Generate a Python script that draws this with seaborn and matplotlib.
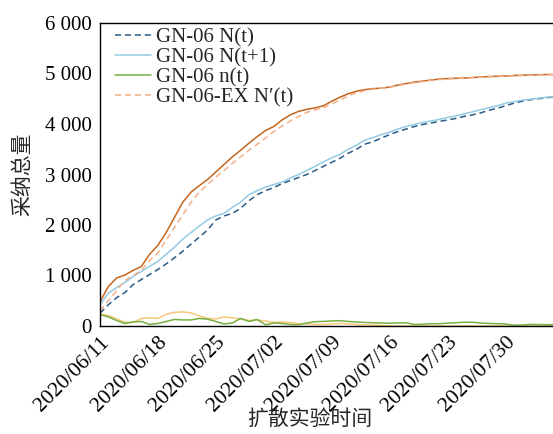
import numpy as np
import pandas as pd
import matplotlib
matplotlib.use("Agg")
import matplotlib.pyplot as plt
import matplotlib.dates as mdates
from matplotlib.ticker import FuncFormatter
import seaborn as sns

# ---------------- data (daily, 2020/06/11 .. 2020/08/05) ----------------
start_date = "2020-06-11"
n_days = 56

N_t = [250, 420, 560, 660, 820, 920, 1020, 1120, 1230, 1350, 1480, 1620, 1760, 1900,
       2100, 2180, 2230, 2330, 2480, 2600, 2680, 2740, 2820, 2880, 2940, 3000, 3080, 3160,
       3240, 3320, 3420, 3500, 3600, 3650, 3720, 3790, 3850, 3900, 3950, 3990, 4020, 4050,
       4080, 4110, 4150, 4180, 4220, 4270, 4310, 4360, 4410, 4450, 4480, 4500, 4520, 4540]

N_t1 = [420, 650, 760, 860, 980, 1080, 1180, 1280, 1420, 1560, 1720, 1850, 1980, 2100,
        2180, 2230, 2350, 2450, 2600, 2680, 2750, 2800, 2850, 2930, 3000, 3080, 3160, 3250,
        3330, 3400, 3500, 3580, 3680, 3730, 3790, 3840, 3900, 3950, 3990, 4030, 4060, 4090,
        4130, 4160, 4200, 4240, 4280, 4320, 4360, 4410, 4440, 4470, 4490, 4510, 4530, 4540]

n_t = [230, 180, 110, 50, 80, 90, 30, 50, 90, 130, 120, 120, 150, 135, 90, 40, 60, 150,
       90, 130, 25, 60, 50, 30, 25, 60, 85, 90, 100, 105, 90, 80, 70, 65, 60, 55, 60, 65,
       30, 35, 45, 45, 55, 65, 75, 75, 60, 50, 45, 40, 15, 20, 30, 30, 25, 30]

EX_Np = [300, 500, 700, 900, 1000, 1100, 1300, 1450, 1700, 1950, 2200, 2450, 2650, 2800,
         2950, 3080, 3220, 3350, 3480, 3600, 3720, 3850, 3960, 4060, 4150, 4230, 4280, 4320,
         4400, 4470, 4560, 4620, 4660, 4690, 4710, 4730, 4760, 4790, 4820, 4840, 4860, 4880,
         4890, 4900, 4905, 4915, 4925, 4935, 4940, 4945, 4955, 4960, 4965, 4970, 4975, 4978]

EX_Np_solid = [480, 780, 950, 1010, 1100, 1180, 1420, 1600, 1850, 2150, 2450, 2650, 2780,
               2900, 3050, 3200, 3350, 3480, 3620, 3750, 3870, 3950, 4080, 4180, 4250, 4290,
               4320, 4360, 4450, 4530, 4600, 4650, 4680, 4700, 4710, 4730, 4770, 4800, 4830,
               4850, 4870, 4890, 4900, 4905, 4910, 4920, 4930, 4940, 4945, 4950, 4960, 4965,
               4970, 4975, 4980, 4980]

EX_n = [230, 210, 140, 75, 70, 150, 160, 150, 230, 270, 280, 260, 200, 150, 140, 180, 160,
        140, 110, 120, 100, 70, 80, 70, 45, 40, 30, 30, 40, 50, 40, 30, 20, 20, 10, 5, 0, 0,
        0, 0, 0, 0, 0, 0, 0, 0, 0, 0, 0, 0, 0, 0, 0, 0, 0, 0]

labels = ["GN-06 N(t)", "GN-06 N(t+1)", "GN-06 n(t)", "GN-06-EX N\u2032(t)"]
y_ticks = [0, 1000, 2000, 3000, 4000, 5000, 6000]
x_tick_dates = ["2020-06-11", "2020-06-18", "2020-06-25", "2020-07-02",
                "2020-07-09", "2020-07-16", "2020-07-23", "2020-07-30"]

dates = pd.date_range(start_date, periods=n_days, freq="D")
df = pd.DataFrame({"date": dates, "N_t": N_t, "N_t1": N_t1, "n_t": n_t,
                   "EX_Np": EX_Np, "EX_Np_solid": EX_Np_solid, "EX_n": EX_n})

# ---------------- figure ----------------
sns.set_style("white")
plt.rcParams["font.family"] = ["Liberation Serif", "Noto Sans CJK SC"]

W, H = 553, 434
fig = plt.figure(figsize=(W / 100, H / 100), dpi=100)
ax = fig.add_axes([100 / W, 1 - 326 / H, 455 / W, (326 - 23) / H])

c_dblue = "#2b5a84"
c_lblue = "#92cbe3"
c_green = "#77b043"
c_dorange = "#c4651c"
c_lorange = "#f4b08a"
c_yellow = "#f7c878"
lw = 1.1

# lines not in legend
sns.lineplot(data=df, x="date", y="EX_n", ax=ax, color=c_yellow, lw=lw, label="_nolegend_")
sns.lineplot(data=df, x="date", y="EX_Np_solid", ax=ax, color=c_dorange, lw=lw, label="_nolegend_")

sns.lineplot(data=df, x="date", y="N_t", ax=ax, color=c_dblue, lw=lw,
             linestyle=(0, (4, 2.5)), label=labels[0])
sns.lineplot(data=df, x="date", y="N_t1", ax=ax, color=c_lblue, lw=lw, label=labels[1])
sns.lineplot(data=df, x="date", y="n_t", ax=ax, color=c_green, lw=lw, label=labels[2])
sns.lineplot(data=df, x="date", y="EX_Np", ax=ax, color=c_lorange, lw=lw,
             linestyle=(0, (4, 2.5)), label=labels[3])

ax.set_xlim(dates[0], dates[-1])
ax.set_ylim(0, 6000)
ax.set_yticks(y_ticks)
ax.yaxis.set_major_formatter(FuncFormatter(lambda v, p: f"{int(v):,}".replace(",", " ")))
ax.set_xticks(pd.to_datetime(x_tick_dates))
ax.xaxis.set_major_formatter(mdates.DateFormatter("%Y/%m/%d"))

ax.tick_params(axis="both", direction="in", length=5, width=1, labelsize=15,
               colors="black")
ax.tick_params(axis="y", pad=6)
ax.tick_params(axis="x", pad=5, labelsize=15.5)

for lab in ax.get_xticklabels():
    lab.set_rotation(45)
    lab.set_ha("right")
    lab.set_rotation_mode("anchor")

for s in ["left", "bottom", "top"]:
    ax.spines[s].set_visible(True)
    ax.spines[s].set_color("black")
    ax.spines[s].set_linewidth(1.0)
ax.spines["right"].set_visible(False)

ax.set_xlabel("扩散实验时间", fontsize=15)
ax.xaxis.set_label_coords((310 - 100) / 455, (326 - 410) / 303)
ax.set_ylabel("采纳总量", fontsize=15, labelpad=8)

ax.legend(loc="upper left", bbox_to_anchor=(115 / W, 1 - 28 / H),
          bbox_transform=fig.transFigure, frameon=False, fontsize=15,
          handlelength=1.75, handletextpad=0.2, labelspacing=0.02,
          borderpad=0, borderaxespad=0)

fig.savefig("out.png", dpi=100)
